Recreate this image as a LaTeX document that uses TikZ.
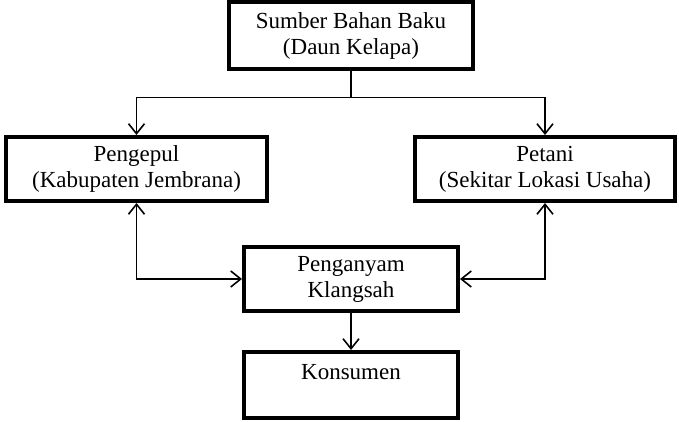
\documentclass[tikz,border=0pt]{standalone}
\usepackage{fontspec}
\setmainfont{Liberation Serif}
\usetikzlibrary{arrows.meta}
\begin{document}
\begin{tikzpicture}[x=1pt,y=1pt,
    >={Straight Barb[length=10pt,width=16pt]},
    box/.style={draw,line width=4pt,align=center,inner sep=0pt,
      font=\fontsize{23}{26}\selectfont}]
      \useasboundingbox (0,0) rectangle (679,422);
      \draw
        (351,386) node[box,minimum width=244,minimum height=67] (bahan){Sumber Bahan Baku\\(Daun Kelapa)}
        (136.5,253) node[box,minimum width=261,minimum height=64] (pengepul){Pengepul\\(Kabupaten Jembrana)}
        (545,253) node[box,minimum width=260,minimum height=64] (petani){Petani\\(Sekitar Lokasi Usaha)}
        (351,143) node[box,minimum width=214,minimum height=64] (penganyam){Penganyam\\Klangsah}
        (351,37) node[box,minimum width=214,minimum height=66,text depth=26pt] (konsumen){Konsumen};
      \begin{scope}[line width=1.6pt]
        \draw[->] (bahan.south) -- ++(0,-26) -| (pengepul.north);
        \draw[->] (bahan.south) -- ++(0,-26) -| (petani.north);
        \draw[<->] (pengepul.south) |- (penganyam.west);
        \draw[<->] (petani.south) |- (penganyam.east);
        \draw[->] (penganyam) -- (konsumen);
      \end{scope}
    \end{tikzpicture}
\end{document}
